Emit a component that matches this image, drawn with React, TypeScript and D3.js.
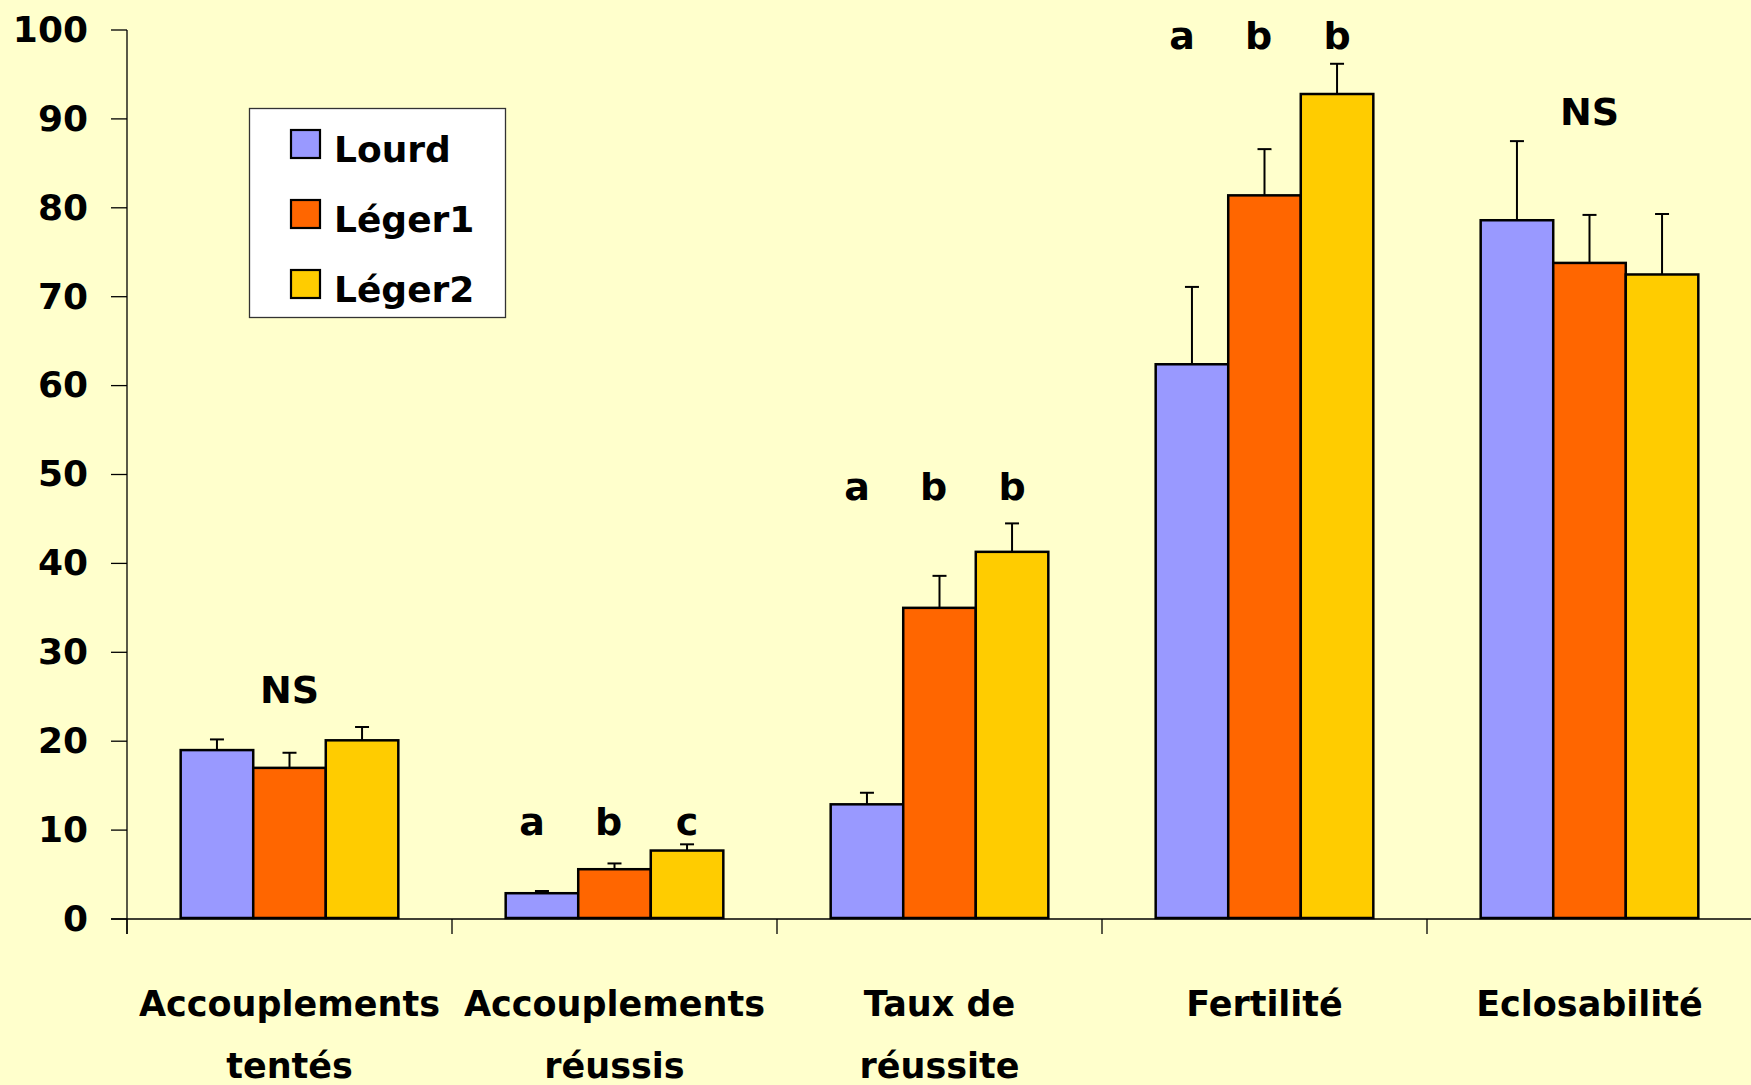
import * as d3 from 'd3';

const categories = ['Accouplements tentés', 'Accouplements réussis', 'Taux de réussite', 'Fertilité', 'Eclosabilité'];
const categoryLines = [['Accouplements', 'tentés'], ['Accouplements', 'réussis'], ['Taux de', 'réussite'], ['Fertilité'], ['Eclosabilité']];
const series = ['Lourd', 'Léger1', 'Léger2'];
const colors = ['#9999FF', '#FF6600', '#FFCC00'];

const lourd = [19.0, 2.9, 12.9, 62.4, 78.6];
const leger1 = [17.0, 5.6, 35.0, 81.4, 73.8];
const leger2 = [20.1, 7.7, 41.3, 92.8, 72.5];
const lourdErr = [1.2, 0.25, 1.3, 8.7, 8.9];
const leger1Err = [1.7, 0.65, 3.6, 5.2, 5.4];
const leger2Err = [1.5, 0.7, 3.2, 3.4, 6.8];

// significance letters, and the level (axis units) of their baseline
const sigLabels = [['NS'], ['a', 'b', 'c'], ['a', 'b', 'b'], ['a', 'b', 'b'], ['NS']];
const sigLevels = [24.3, 9.4, 47.1, 97.9, 89.3];

const yTicks = [0, 10, 20, 30, 40, 50, 60, 70, 80, 90, 100];

const W = 1751;
const H = 1085;
const font = '"Comic Sans MS", "DejaVu Sans", sans-serif';

export default function App() {
  const values = [lourd, leger1, leger2];
  const errors = [lourdErr, leger1Err, leger2Err];

  const x = d3.scaleBand<string>().domain(categories).range([127, 1752]).padding(0);
  const inner = d3.scaleBand<string>().domain(series).range([0, x.bandwidth()]).paddingInner(0).paddingOuter(0.74);
  const y = d3.scaleLinear().domain([0, 100]).range([919, 30]);
  const cap = 7;

  return (
    <div style={{ position: 'absolute', left: 0, top: 0 }}>
      <svg width={W} height={H} style={{ display: 'block' }} fontFamily={font} fontWeight="bold">
        <rect x={0} y={0} width={W} height={H} fill="#FFFFCC" />

        {/* y axis */}
        <line x1={127} x2={127} y1={y(100)} y2={934} stroke="#000" strokeWidth={1.3} />
        {yTicks.map((t) => (
          <g key={t}>
            <line x1={111} x2={127} y1={y(t)} y2={y(t)} stroke="#000" strokeWidth={1.3} />
            <text x={88} y={y(t)} dy="0.33em" textAnchor="end" fontSize={36}>
              {t}
            </text>
          </g>
        ))}

        {/* x axis */}
        <line x1={111} x2={W} y1={y(0)} y2={y(0)} stroke="#000" strokeWidth={1.3} />
        {categories.map((c) => (
          <line key={c} x1={x(c)!} x2={x(c)!} y1={y(0)} y2={934} stroke="#000" strokeWidth={1.3} />
        ))}

        {/* bars */}
        {categories.map((c, ci) => (
          <g key={c} transform={`translate(${x(c)},0)`}>
            {series.map((s, si) => {
              const v = values[si][ci];
              const e = errors[si][ci];
              const bx = inner(s)!;
              const cx = bx + inner.bandwidth() / 2;
              return (
                <g key={s}>
                  <line x1={cx} x2={cx} y1={y(v)} y2={y(v + e)} stroke="#000" strokeWidth={2} />
                  <line x1={cx - cap} x2={cx + cap} y1={y(v + e)} y2={y(v + e)} stroke="#000" strokeWidth={2} />
                  <rect
                    x={bx}
                    y={y(v)}
                    width={inner.bandwidth()}
                    height={y(0) - y(v) - 1}
                    fill={colors[si]}
                    stroke="#000"
                    strokeWidth={2.5}
                  />
                </g>
              );
            })}
          </g>
        ))}

        {/* significance letters */}
        {categories.map((c, ci) => {
          const labels = sigLabels[ci];
          const ly = y(sigLevels[ci]);
          if (labels.length === 1) {
            return (
              <text key={c} x={x(c)! + x.bandwidth() / 2} y={ly} textAnchor="middle" fontSize={38}>
                {labels[0]}
              </text>
            );
          }
          return (
            <g key={c}>
              {labels.map((l, li) => (
                <text
                  key={li}
                  x={x(c)! + inner(series[li])! + inner.bandwidth() / 2 - (li === 0 ? 10 : li === 1 ? 6 : 0)}
                  y={ly}
                  textAnchor="middle"
                  fontSize={38}
                >
                  {l}
                </text>
              ))}
            </g>
          );
        })}

        {/* category labels */}
        {categories.map((c, ci) => (
          <text key={c} x={x(c)! + x.bandwidth() / 2} textAnchor="middle" fontSize={35}>
            {categoryLines[ci].map((line, li) => (
              <tspan key={li} x={x(c)! + x.bandwidth() / 2} y={1016 + li * 62}>
                {line}
              </tspan>
            ))}
          </text>
        ))}

        {/* legend */}
        <g>
          <rect x={249.5} y={108.5} width={256} height={209} fill="#fff" stroke="#333" strokeWidth={1.3} />
          {series.map((s, si) => (
            <g key={s} transform={`translate(0,${si * 70})`}>
              <rect x={291} y={130} width={29} height={28} fill={colors[si]} stroke="#000" strokeWidth={2.2} />
              <text x={334} y={162} fontSize={36}>
                {s}
              </text>
            </g>
          ))}
        </g>
      </svg>
    </div>
  );
}
